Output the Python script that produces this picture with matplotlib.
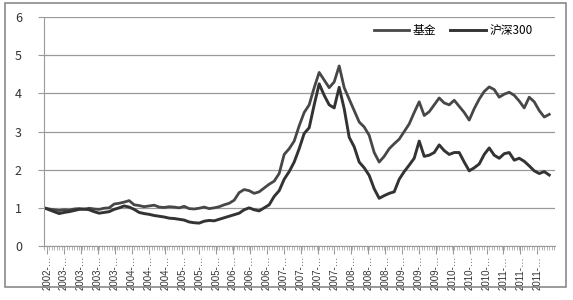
import numpy as np
import matplotlib
matplotlib.use("Agg")
import matplotlib.pyplot as plt
from matplotlib.patches import Rectangle

plt.rcParams['font.family'] = ['Noto Sans CJK SC', 'DejaVu Sans']

# fund index (基金), equal steps in time
fund = [1.00, 0.97, 0.95, 0.93, 0.95, 0.94, 0.97, 0.98, 0.96, 0.99,
        0.97, 0.96, 0.99, 1.00, 1.10, 1.12, 1.15, 1.19, 1.08, 1.06,
        1.03, 1.05, 1.07, 1.02, 1.01, 1.03, 1.02, 1.00, 1.04, 0.98,
        0.97, 0.99, 1.02, 0.98, 1.00, 1.03, 1.08, 1.12, 1.20, 1.40,
        1.48, 1.45, 1.38, 1.42, 1.52, 1.62, 1.70, 1.90, 2.40, 2.55,
        2.75, 3.15, 3.50, 3.70, 4.15, 4.55, 4.35, 4.15, 4.30, 4.72,
        4.15, 3.85, 3.55, 3.25, 3.12, 2.90, 2.45, 2.20, 2.35, 2.55,
        2.68, 2.80, 3.00, 3.20, 3.50, 3.78, 3.42, 3.52, 3.70, 3.88,
        3.75, 3.70, 3.82, 3.66, 3.50, 3.30, 3.60, 3.85, 4.05, 4.17,
        4.10, 3.90, 3.98, 4.03, 3.95, 3.80, 3.62, 3.90, 3.78, 3.55,
        3.38, 3.45]

# CSI 300 (沪深300)
hs300 = [1.00, 0.95, 0.90, 0.85, 0.88, 0.90, 0.93, 0.96, 0.97, 0.95,
         0.90, 0.86, 0.88, 0.90, 0.96, 1.00, 1.05, 1.02, 0.96, 0.88,
         0.85, 0.83, 0.80, 0.78, 0.76, 0.73, 0.72, 0.70, 0.68, 0.63,
         0.61, 0.60, 0.65, 0.67, 0.66, 0.70, 0.74, 0.78, 0.82, 0.86,
         0.95, 1.00, 0.95, 0.92, 1.00, 1.08, 1.30, 1.45, 1.75, 1.95,
         2.20, 2.55, 2.95, 3.10, 3.70, 4.25, 3.95, 3.70, 3.62, 4.16,
         3.60, 2.85, 2.60, 2.20, 2.05, 1.85, 1.50, 1.25, 1.32, 1.38,
         1.42, 1.75, 1.95, 2.12, 2.30, 2.75, 2.35, 2.38, 2.45, 2.65,
         2.50, 2.40, 2.45, 2.45, 2.20, 1.97, 2.05, 2.15, 2.40, 2.57,
         2.38, 2.30, 2.42, 2.45, 2.25, 2.30, 2.22, 2.10, 1.97, 1.90,
         1.95, 1.86]

years = ['2002', '2003', '2003', '2003', '2003', '2004', '2004', '2004',
         '2005', '2005', '2005', '2006', '2006', '2006', '2007', '2007',
         '2007', '2007', '2008', '2008', '2008', '2009', '2009', '2009',
         '2010', '2010', '2010', '2011', '2011', '2011']
tick_labels = [y + '-…' for y in years]

fig = plt.figure(figsize=(5.73, 3.0), dpi=100)
fig.patches.append(Rectangle((0.009, 0.043), 0.978, 0.947, transform=fig.transFigure,
                             fill=False, edgecolor='#8a8a8a', linewidth=1.2))
ax = fig.add_axes([0.077, 0.18, 0.892, 0.763])

x = np.arange(len(fund))
ax.plot(x, fund, color='#474747', linewidth=2.0, label='基金')
ax.plot(x, hs300, color='#333333', linewidth=2.1, label='沪深300')

ax.set_ylim(0, 6)
ax.set_xlim(0, len(fund) + 0.2)
ax.set_yticks(range(0, 7))
ax.yaxis.grid(True, color='#9a9a9a', linewidth=0.9)
ax.set_axisbelow(True)

ax.set_xticks(np.linspace(0.6, len(fund) - 3.4, len(tick_labels)))
ax.set_xticklabels(tick_labels, rotation=90, fontsize=7, color='#333333',
                   family=['Liberation Sans', 'DejaVu Sans'])
ax.set_xticks(np.arange(0, len(fund) + 0.2, 0.5), minor=True)
ax.tick_params(axis='x', which='major', length=6, color='#9a9a9a', pad=1)
ax.tick_params(axis='x', which='minor', length=3, color='#aaaaaa')
ax.tick_params(axis='y', length=4, color='#9a9a9a', labelsize=9, labelcolor='#333333', pad=12)

for side in ['top', 'right']:
    ax.spines[side].set_visible(False)
ax.spines['left'].set_color('#9a9a9a')
ax.spines['bottom'].set_color('#9a9a9a')

ax.legend(loc='center', bbox_to_anchor=(0.80, 0.94), ncol=2, frameon=False,
          fontsize=8.5, handlelength=3.0, columnspacing=1.2, handletextpad=0.3)

fig.savefig('out.png', dpi=100)
